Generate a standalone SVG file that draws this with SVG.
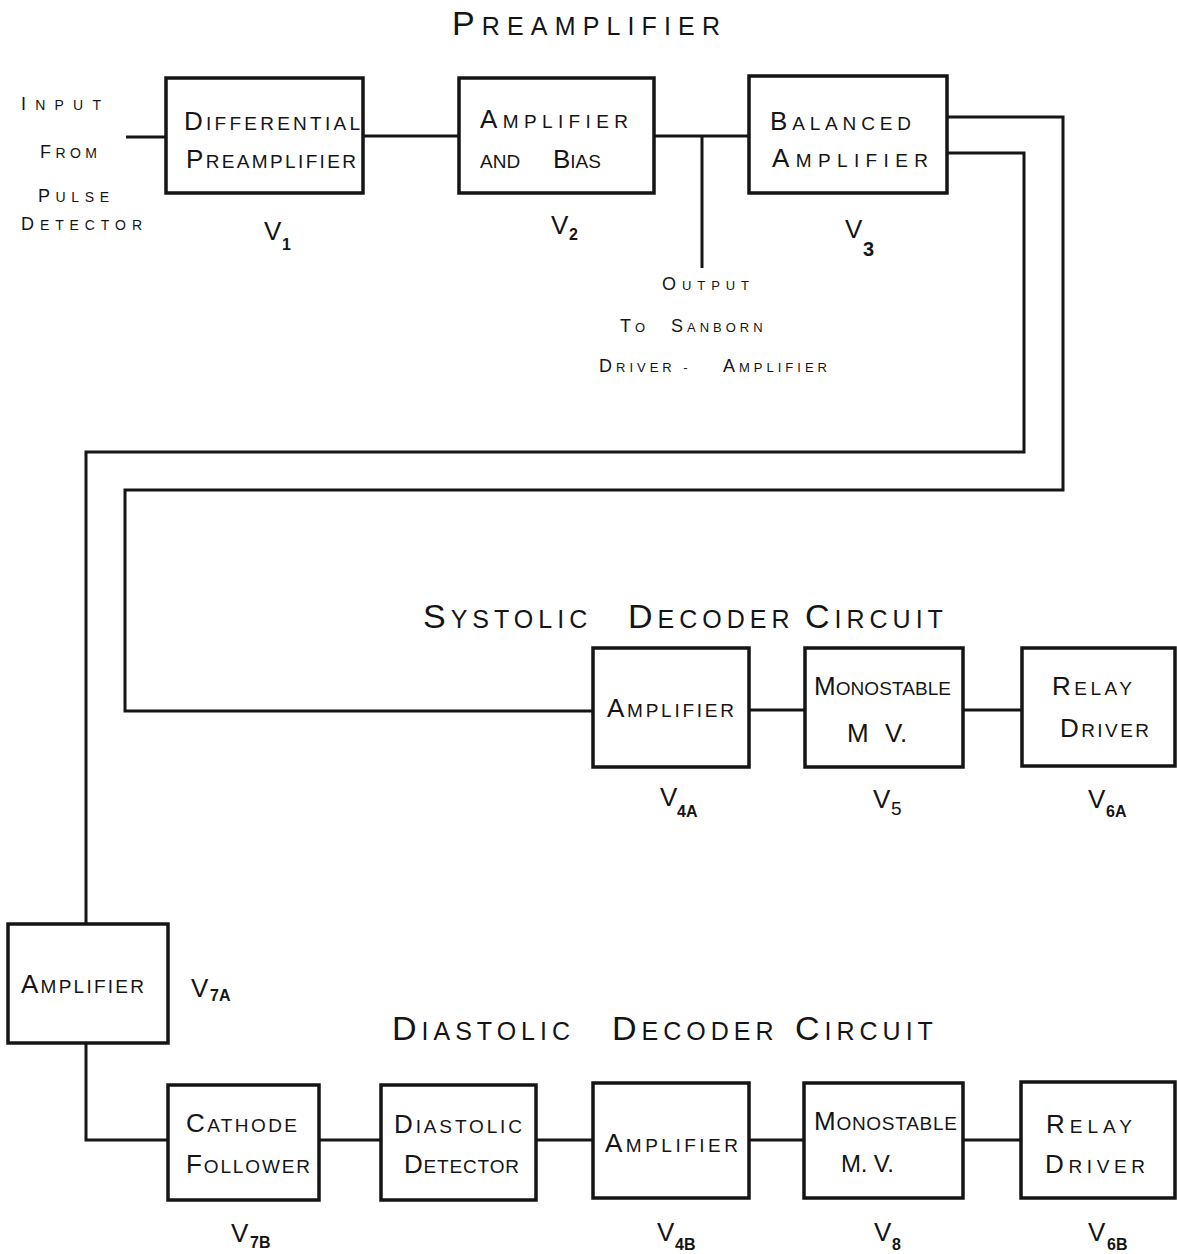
<svg xmlns="http://www.w3.org/2000/svg" width="1177" height="1254" viewBox="0 0 1177 1254">
<style>
.bg{fill:#ffffff}
.box{fill:none;stroke:#151515;stroke-width:3.5}
.w{fill:none;stroke:#151515;stroke-width:3;stroke-linejoin:miter}
text{font-family:"Liberation Sans",Arial,sans-serif;fill:#151515}
.b{font-size:19px}
.b .B{font-size:26px}
.h{font-size:25px;letter-spacing:5px}
.h .B{font-size:34px}
.s{font-size:14px}
.s .B{font-size:18px}
.o{font-size:13px;letter-spacing:4px}
.o .B{font-size:18px}
.v{font-size:26px}
.sub{font-size:16px;font-weight:bold}
</style>
<rect class="bg" x="0" y="0" width="1177" height="1254"/>

<g id="connectors">
<path class="w" d="M126 137 H166"/>
<path class="w" d="M363 136 H459"/>
<path class="w" d="M654 136 H749"/>
<path class="w" d="M702 136 V268"/>
<path class="w" d="M947 117 H1063 V490 H125 V711 H593"/>
<path class="w" d="M947 153 H1024 V452 H86 V924"/>
<path class="w" d="M749 710 H805"/>
<path class="w" d="M963 710 H1022"/>
<path class="w" d="M86 1043 V1140 H168"/>
<path class="w" d="M319 1140 H381"/>
<path class="w" d="M536 1140 H593"/>
<path class="w" d="M749 1140 H804"/>
<path class="w" d="M963 1140 H1021"/>
</g>

<g id="title-preamplifier">
<text class="h" x="452" y="35" textLength="273" lengthAdjust="spacing"><tspan class="B">P</tspan>REAMPLIFIER</text>
</g>

<g id="input-label">
<text class="s" x="21" y="110" textLength="80" lengthAdjust="spacing"><tspan class="B">I</tspan>NPUT</text>
<text class="s" x="40" y="158" textLength="57" lengthAdjust="spacing"><tspan class="B">F</tspan>ROM</text>
<text class="s" x="38" y="202" textLength="71" lengthAdjust="spacing"><tspan class="B">P</tspan>ULSE</text>
<text class="s" x="21" y="230" textLength="121" lengthAdjust="spacing"><tspan class="B">D</tspan>ETECTOR</text>
</g>

<g id="node-v1">
<rect class="box" x="166" y="78" width="197" height="115"/>
<text class="b" x="184" y="130" textLength="176" lengthAdjust="spacing"><tspan class="B">D</tspan>IFFERENTIAL</text>
<text class="b" x="186" y="168" textLength="170" lengthAdjust="spacing"><tspan class="B">P</tspan>REAMPLIFIER</text>
<text class="v" x="264" y="240">V<tspan class="sub" x="282" y="250">1</tspan></text>
</g>

<g id="node-v2">
<rect class="box" x="459" y="78" width="195" height="115"/>
<text class="b" x="480" y="128" textLength="148" lengthAdjust="spacing"><tspan class="B">A</tspan>MPLIFIER</text>
<text class="b" x="480" y="168">AND<tspan class="B" x="553">B</tspan>IAS</text>
<text class="v" x="551" y="234">V<tspan class="sub" x="569" y="240">2</tspan></text>
</g>

<g id="node-v3">
<rect class="box" x="749" y="76" width="198" height="117"/>
<text class="b" x="770" y="130" textLength="141" lengthAdjust="spacing"><tspan class="B">B</tspan>ALANCED</text>
<text class="b" x="772" y="167" textLength="156" lengthAdjust="spacing"><tspan class="B">A</tspan>MPLIFIER</text>
<text class="v" x="845" y="238">V<tspan class="sub" x="863" y="256" style="font-size:20px">3</tspan></text>
</g>

<g id="output-label">
<text class="o" x="662" y="290" textLength="91" lengthAdjust="spacing"><tspan class="B">O</tspan>UTPUT</text>
<text class="o" x="620" y="332"><tspan class="B">T</tspan>O<tspan class="B" x="671">S</tspan>ANBORN</text>
<text class="o" x="599" y="372"><tspan class="B">D</tspan>RIVER -<tspan class="B" x="723">A</tspan>MPLIFIER</text>
</g>

<g id="title-systolic">
<text class="h" x="423" y="628"><tspan class="B">S</tspan>YSTOLIC<tspan class="B" x="628">D</tspan>ECODER<tspan class="B" x="805">C</tspan>IRCUIT</text>
</g>

<g id="node-v4a">
<rect class="box" x="593" y="648" width="156" height="119"/>
<text class="b" x="607" y="717" textLength="127" lengthAdjust="spacing"><tspan class="B">A</tspan>MPLIFIER</text>
<text class="v" x="660" y="806">V<tspan class="sub" x="677" y="817">4A</tspan></text>
</g>

<g id="node-v5">
<rect class="box" x="805" y="648" width="158" height="119"/>
<text class="b" x="814" y="695" textLength="137" lengthAdjust="spacing"><tspan class="B">M</tspan>ONOSTABLE</text>
<text class="b" x="847" y="742" style="font-size:26px">M<tspan x="885">V.</tspan></text>
<text class="v" x="873" y="808">V<tspan class="sub" x="891" y="815" style="font-size:19px;font-weight:normal">5</tspan></text>
</g>

<g id="node-v6a">
<rect class="box" x="1022" y="648" width="153" height="118"/>
<text class="b" x="1052" y="695" textLength="80" lengthAdjust="spacing"><tspan class="B">R</tspan>ELAY</text>
<text class="b" x="1060" y="737" textLength="89" lengthAdjust="spacing"><tspan class="B">D</tspan>RIVER</text>
<text class="v" x="1088" y="808">V<tspan class="sub" x="1106" y="817">6A</tspan></text>
</g>

<g id="node-v7a">
<rect class="box" x="8" y="924" width="160" height="119"/>
<text class="b" x="21" y="993" textLength="123" lengthAdjust="spacing"><tspan class="B">A</tspan>MPLIFIER</text>
<text class="v" x="191" y="997">V<tspan class="sub" x="210" y="1001">7A</tspan></text>
</g>

<g id="title-diastolic">
<text class="h" x="392" y="1040"><tspan class="B">D</tspan>IASTOLIC<tspan class="B" x="612">D</tspan>ECODER<tspan class="B" x="795">C</tspan>IRCUIT</text>
</g>

<g id="node-v7b">
<rect class="box" x="168" y="1085" width="151" height="115"/>
<text class="b" x="186" y="1132" textLength="111" lengthAdjust="spacing"><tspan class="B">C</tspan>ATHODE</text>
<text class="b" x="186" y="1173" textLength="124" lengthAdjust="spacing"><tspan class="B">F</tspan>OLLOWER</text>
<text class="v" x="231" y="1242">V<tspan class="sub" x="250" y="1248">7B</tspan></text>
</g>

<g id="node-diastolic-detector">
<rect class="box" x="381" y="1085" width="155" height="115"/>
<text class="b" x="394" y="1133" textLength="128" lengthAdjust="spacing"><tspan class="B">D</tspan>IASTOLIC</text>
<text class="b" x="404" y="1173" textLength="115" lengthAdjust="spacing"><tspan class="B">D</tspan>ETECTOR</text>
</g>

<g id="node-v4b">
<rect class="box" x="593" y="1083" width="156" height="115"/>
<text class="b" x="605" y="1152" textLength="133" lengthAdjust="spacing"><tspan class="B">A</tspan>MPLIFIER</text>
<text class="v" x="657" y="1241">V<tspan class="sub" x="675" y="1250">4B</tspan></text>
</g>

<g id="node-v8">
<rect class="box" x="804" y="1083" width="159" height="115"/>
<text class="b" x="814" y="1130" textLength="143" lengthAdjust="spacing"><tspan class="B">M</tspan>ONOSTABLE</text>
<text class="b" x="841" y="1172" style="font-size:24px" textLength="53" lengthAdjust="spacing">M. V.</text>
<text class="v" x="874" y="1241">V<tspan class="sub" x="892" y="1250">8</tspan></text>
</g>

<g id="node-v6b">
<rect class="box" x="1021" y="1082" width="154" height="116"/>
<text class="b" x="1046" y="1133" textLength="86" lengthAdjust="spacing"><tspan class="B">R</tspan>ELAY</text>
<text class="b" x="1045" y="1173" textLength="100" lengthAdjust="spacing"><tspan class="B">D</tspan>RIVER</text>
<text class="v" x="1088" y="1241">V<tspan class="sub" x="1107" y="1250">6B</tspan></text>
</g>
</svg>
